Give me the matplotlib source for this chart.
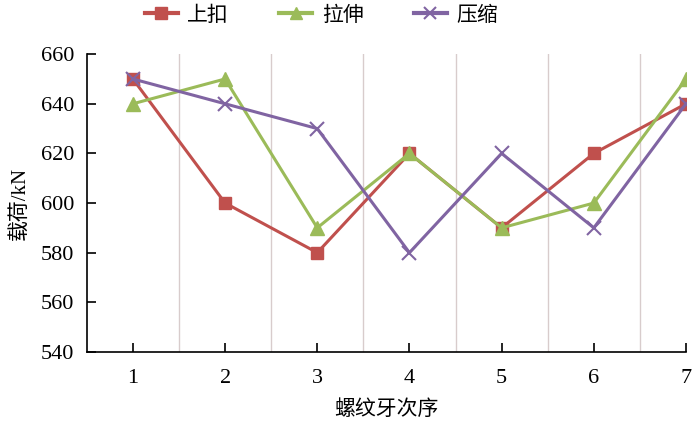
import matplotlib
matplotlib.use("Agg")
import matplotlib.pyplot as plt
from matplotlib.lines import Line2D

plt.rcParams["font.family"] = ["Liberation Serif", "Noto Sans CJK SC"]

threads = [1, 2, 3, 4, 5, 6, 7]
screw_on = [650, 600, 580, 620, 590, 620, 640]
tension = [640, 650, 590, 620, 590, 600, 650]
compression = [650, 640, 630, 580, 620, 590, 640]
labels = ["上扣", "拉伸", "压缩"]

RED = "#C0504D"
GREEN = "#9BBB59"
PURPLE = "#8064A2"

fig = plt.figure(figsize=(7, 4.23), dpi=100)
ax = fig.add_axes([0.124, 0.168, 0.856, 0.704])

for x in [1.5, 2.5, 3.5, 4.5, 5.5, 6.5]:
    ax.axvline(x, color="#D8CCCC", lw=1, zorder=0)

ax.plot(threads, screw_on, color=RED, lw=2.2, marker="s", ms=9, label=labels[0], zorder=3)
ax.plot(threads, tension, color=GREEN, lw=2.2, marker="^", ms=10, label=labels[1], zorder=3)
ax.plot(threads, compression, color=PURPLE, lw=2.2, marker="x", ms=10, mew=1.5, label=labels[2], zorder=4)

ax.set_xlim(0.5, 7)
ax.set_ylim(540, 660)
ax.set_xticks(threads)
ax.set_yticks(range(540, 661, 20))
ax.tick_params(direction="in", length=6.5, width=1.2, labelsize=16)
ax.tick_params(axis="x", pad=12)
ax.tick_params(axis="y", pad=9)
ax.spines["top"].set_visible(False)
ax.spines["right"].set_visible(False)
ax.spines["left"].set_linewidth(1.2)
ax.spines["bottom"].set_linewidth(1.2)

ax.set_ylabel("载荷/kN", fontsize=15, labelpad=8)
ax.set_xlabel("螺纹牙次序", fontsize=15, labelpad=9)

handles = [
    Line2D([], [], color=RED, lw=3, marker="s", ms=9),
    Line2D([], [], color=GREEN, lw=3, marker="^", ms=9),
    Line2D([], [], color=PURPLE, lw=3, marker="x", ms=9, mew=1.5),
]
fig.legend(handles, labels, loc="upper center", bbox_to_anchor=(0.459, 1.03), ncol=3,
           frameon=False, fontsize=15, handlelength=1.6, columnspacing=2.4, handletextpad=0.45)

fig.savefig("out.png", dpi=100)
